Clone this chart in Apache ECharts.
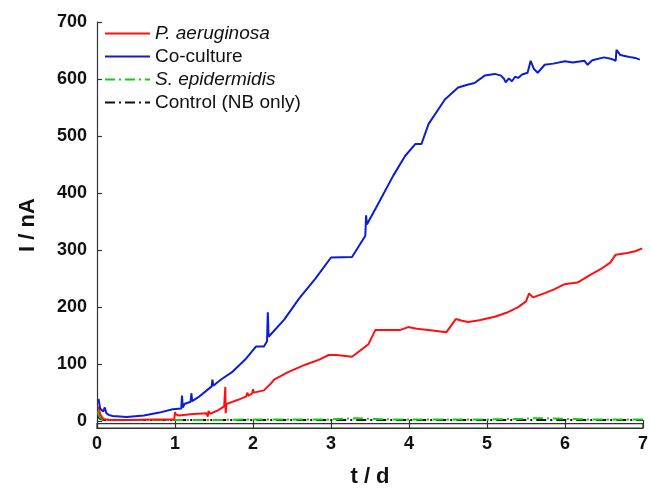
<!DOCTYPE html>
<html>
<head>
<meta charset="utf-8">
<script src="https://cdn.jsdelivr.net/npm/echarts@6/dist/echarts.min.js"></script>
<style>
  html, body { margin: 0; padding: 0; background: #fff; }
  #chart { width: 651px; height: 493px; }
</style>
</head>
<body>
<div id="chart"></div>
<script>
// Time in days, current in nA
const tPa = [0.02, 0.04, 0.08, 0.15, 0.4, 0.7, 0.99, 1.0, 1.01, 1.05, 1.2, 1.4, 1.42, 1.43, 1.45, 1.55, 1.63, 1.645, 1.65, 1.66, 1.7, 1.8, 1.91, 1.93, 1.94, 1.99, 2.0, 2.01, 2.14, 2.23, 2.27, 2.45, 2.67, 2.85, 2.97, 3.07, 3.27, 3.48, 3.57, 3.7, 3.89, 3.99, 4.1, 4.25, 4.48, 4.6, 4.68, 4.76, 4.9, 5.1, 5.25, 5.4, 5.5, 5.54, 5.59, 5.75, 5.86, 5.99, 6.16, 6.33, 6.45, 6.58, 6.65, 6.8, 6.9, 6.99];
const iPa = [26, 12, 4, 2, 2, 3, 3, 16, 12, 10, 12, 14, 8, 18, 13, 19, 26, 60, 14, 30, 32, 37, 43, 50, 44, 49, 56, 50, 54, 66, 73, 86, 99, 108, 116, 116, 113, 135, 160, 160, 160, 165, 162, 160, 156, 179, 176, 174, 177, 183, 190, 200, 210, 224, 217, 225, 231, 240, 243, 257, 266, 278, 292, 295, 298, 303];

const tCo = [0.02, 0.04, 0.08, 0.1, 0.12, 0.15, 0.2, 0.38, 0.6, 0.8, 0.97, 1.08, 1.09, 1.1, 1.12, 1.2, 1.21, 1.22, 1.3, 1.47, 1.48, 1.49, 1.6, 1.74, 1.9, 2.04, 2.14, 2.18, 2.19, 2.2, 2.4, 2.59, 2.8, 3.0, 3.27, 3.44, 3.45, 3.46, 3.6, 3.8, 3.95, 4.08, 4.16, 4.25, 4.46, 4.63, 4.75, 4.84, 4.97, 5.1, 5.18, 5.22, 5.24, 5.28, 5.32, 5.36, 5.4, 5.45, 5.52, 5.56, 5.6, 5.65, 5.74, 5.85, 6.0, 6.1, 6.25, 6.29, 6.35, 6.5, 6.6, 6.65, 6.66, 6.71, 6.78, 6.85, 6.9, 6.96];
const iCo = [39, 22, 17, 24, 14, 11, 9, 7.5, 10, 15, 21, 22, 45, 24, 30, 34, 49, 35, 42, 61, 73, 62, 74, 87, 108, 131, 131, 140, 191, 148, 178, 215, 250, 287, 288, 325, 361, 345, 380, 431, 465, 486, 486, 521, 564, 585, 590, 593, 606, 609, 606, 600, 594, 601, 596, 604, 602, 608, 611, 632, 618, 611, 625, 627, 631, 629, 632, 625, 633, 638, 635, 632, 651, 642, 640, 638, 637, 634];

const tSe = [0.01, 0.03, 0.06, 0.1, 0.3, 0.6, 1.0, 1.5, 2.0, 2.5, 3.0, 3.3, 3.5, 3.8, 4.2, 4.6, 5.0, 5.4, 5.6, 5.8, 6.0, 6.3, 6.6, 7.0];
const iSe = [17, 8, 4, 3, 2, 2, 2, 2, 3, 3, 3, 5, 4, 3, 3, 3, 3, 4, 5, 5, 4, 3, 3, 3];

const tNb = [0.01, 0.03, 0.06, 0.1, 0.5, 1.0, 1.5, 2.0, 2.5, 3.0, 3.5, 4.0, 4.5, 5.0, 5.5, 6.0, 6.5, 7.0];
const iNb = [9, 5, 3, 2, 2, 2, 2, 2, 2, 2, 2, 2, 2, 2, 2, 2, 2, 2];

const yTicks = [0, 100, 200, 300, 400, 500, 600, 700];

const zip = (t, v) => t.map((x, k) => [x, v[k]]);

const chart = echarts.init(document.getElementById('chart'), null, { renderer: 'canvas' });

const fontFam = '"Liberation Sans", Arial, sans-serif';

chart.setOption({
  animation: false,
  backgroundColor: '#ffffff',
  grid: { left: 97, right: 6, top: 22, bottom: 61, containLabel: false },
  legend: {
    left: 99,
    top: 19,
    orient: 'vertical',
    itemWidth: 45,
    itemHeight: 14,
    itemGap: 4,
    itemStyle: { opacity: 0 },
    textStyle: {
      fontFamily: fontFam,
      fontSize: 19,
      lineHeight: 19,
      color: '#111',
      rich: { it: { fontFamily: fontFam, fontSize: 19, lineHeight: 19, fontStyle: 'italic', color: '#111' } }
    },
    formatter: function (name) {
      if (name === 'P. aeruginosa' || name === 'S. epidermidis') return '{it|' + name + '}';
      return name;
    },
    data: ['P. aeruginosa', 'Co-culture', 'S. epidermidis', 'Control (NB only)']
  },
  xAxis: {
    type: 'value',
    min: 0, max: 7, interval: 1,
    name: 't / d',
    nameLocation: 'middle',
    nameGap: 38,
    nameTextStyle: { fontFamily: fontFam, fontSize: 22, fontWeight: 'bold', color: '#111' },
    axisLine: { show: true, onZero: false, lineStyle: { color: '#333', width: 1.2 } },
    axisTick: { show: true, inside: true, length: 8, lineStyle: { color: '#333', width: 1.2 } },
    axisLabel: { fontFamily: fontFam, fontSize: 18, fontWeight: 'bold', color: '#111', margin: 7 },
    splitLine: { show: false }
  },
  yAxis: {
    type: 'value',
    min: -12, max: 700,
    name: 'I / nA',
    nameLocation: 'middle',
    nameGap: 58,
    nameTextStyle: { fontFamily: fontFam, fontSize: 22, fontWeight: 'bold', color: '#111' },
    axisLine: { show: true, onZero: false, lineStyle: { color: '#333', width: 1.2 } },
    axisTick: { show: true, inside: true, length: 5, customValues: yTicks, lineStyle: { color: '#333', width: 1.2 } },
    axisLabel: { fontFamily: fontFam, fontSize: 18, fontWeight: 'bold', color: '#111', margin: 10, customValues: yTicks },
    splitLine: { show: false }
  },
  series: [
    {
      name: 'P. aeruginosa', type: 'line', data: zip(tPa, iPa),
      showSymbol: false, symbol: 'none', z: 4,
      lineStyle: { color: '#ff1010', width: 2 }, itemStyle: { color: '#ff1010' }
    },
    {
      name: 'Co-culture', type: 'line', data: zip(tCo, iCo),
      showSymbol: false, symbol: 'none', z: 5,
      lineStyle: { color: '#0a1ed2', width: 2 }, itemStyle: { color: '#0a1ed2' }
    },
    {
      name: 'S. epidermidis', type: 'line', data: zip(tSe, iSe),
      showSymbol: false, symbol: 'none', z: 3,
      lineStyle: { color: '#10d010', width: 2, type: [10, 4, 2, 4] }, itemStyle: { color: '#10d010' }
    },
    {
      name: 'Control (NB only)', type: 'line', data: zip(tNb, iNb),
      showSymbol: false, symbol: 'none', z: 2,
      lineStyle: { color: '#111', width: 2, type: [10, 4, 2, 4] }, itemStyle: { color: '#111' },
      // thin frame band along the bottom of the plot
      markArea: {
        silent: true,
        itemStyle: { color: 'rgba(0,0,0,0)', borderColor: '#333', borderWidth: 1.2 },
        data: [[{ xAxis: 0, yAxis: -12 }, { xAxis: 7, yAxis: -4.5 }]]
      }
    }
  ]
});
</script>
</body>
</html>
